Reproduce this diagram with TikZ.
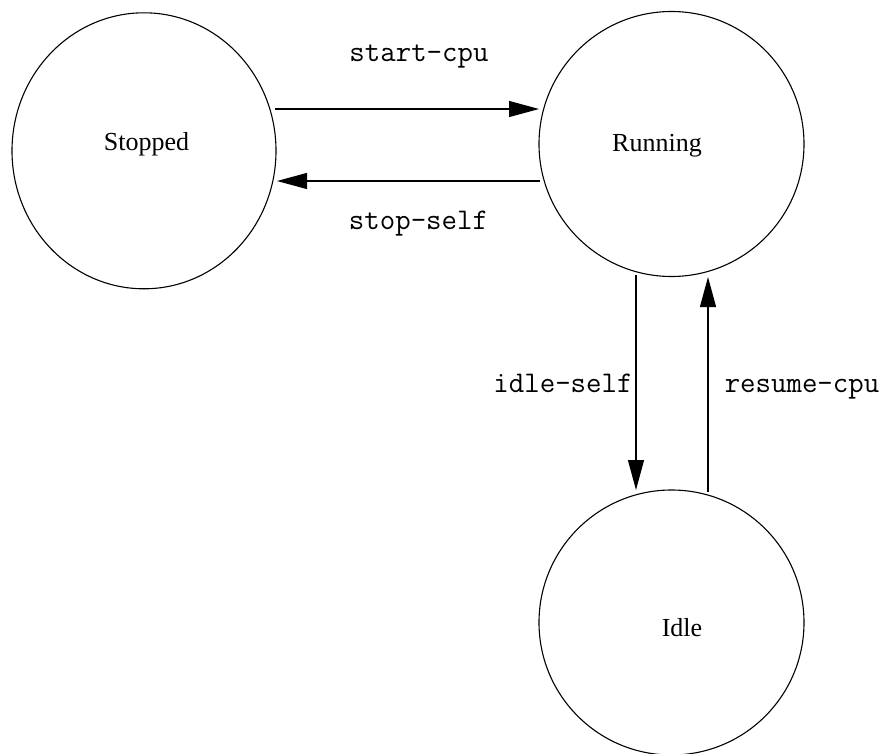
\documentclass[tikz,border=0pt]{standalone}
\usepackage{fontspec}
\setmainfont{Liberation Serif}
\usetikzlibrary{arrows.meta,shapes.geometric,calc}
\begin{document}
\begin{tikzpicture}[x=1pt,y=-1pt,
  statecircle/.style={draw=black,line width=1.1pt,circle,minimum size=265pt,inner sep=0pt,outer sep=0pt},
  stateoval/.style={draw=black,line width=1.1pt,ellipse,minimum width=264pt,minimum height=276pt,inner sep=0pt,outer sep=0pt},
  statetext/.style={anchor=base,font=\fontsize{26}{30}\selectfont,inner sep=0pt},
  edgelabel/.style={anchor=base,font=\ttfamily\fontsize{30}{34}\selectfont,inner sep=0pt},
  trans/.style={draw=black,line width=1.1pt,-{Triangle[length=30pt,width=16pt]}}]
\useasboundingbox[fill=white] (0,0) rectangle (888,754);
\node[stateoval] (Stopped) at (144,150.8) {};
\node[statecircle] (Running) at (671.5,144) {};
\node[statecircle] (Idle) at (671.5,622.5) {};
\node[statetext] (tStopped) at (146.5,150.7) {Stopped};
\node[statetext] (tRunning) at (657,151.7) {Running};
\node[statetext] (tIdle) at (682,636.7) {Idle};
\draw[trans] ($(Stopped.center)+(131,-41.8)$) -- ($(Running.center)+(-132.5,-35)$);
\draw[trans] ($(Running.center)+(-131.5,37)$) -- ($(Stopped.center)+(133,30.2)$);
\draw[trans] ($(Running.center)+(-35.5,131)$) -- ($(Idle.center)+(-35.5,-132.5)$);
\draw[trans] ($(Idle.center)+(36.5,-130.5)$) -- ($(Running.center)+(36.5,133)$);
\node[edgelabel] (lstart) at (419,62) {start-cpu};
\node[edgelabel] (lstop) at (418.5,229) {stop-self};
\node[edgelabel] (lidle) at (563,392) {idle-self};
\node[edgelabel] (lresume) at (802,392) {resume-cpu};
\end{tikzpicture}
\end{document}
